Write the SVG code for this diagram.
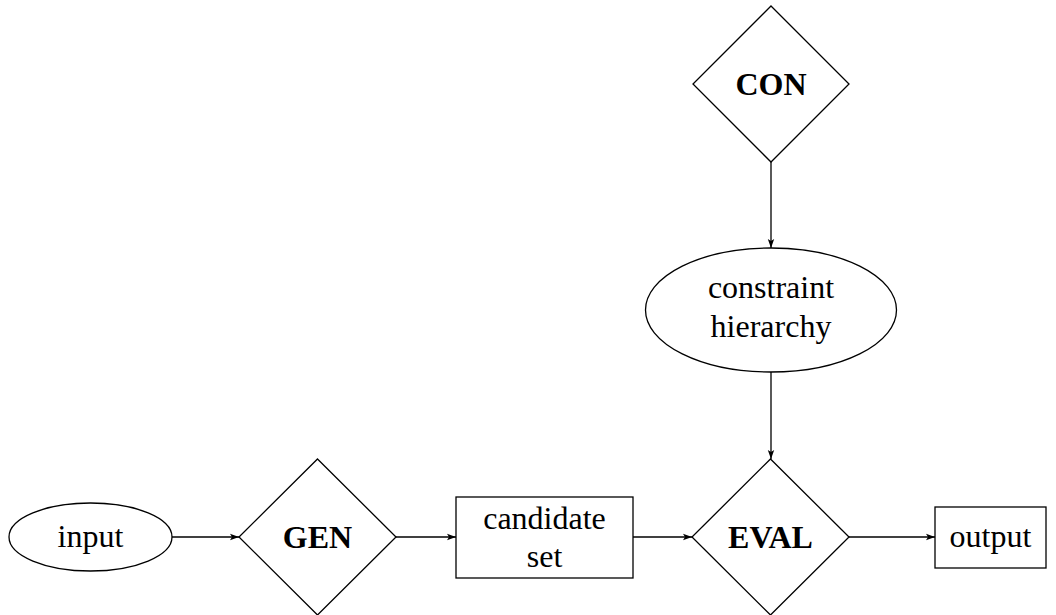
<svg xmlns="http://www.w3.org/2000/svg" width="1056" height="615" viewBox="0 0 1056 615">
<style>
.shape{fill:#fff;stroke:#000;stroke-width:1.3}
.edge{fill:none;stroke:#000;stroke-width:1.3}
text{font-family:'Liberation Serif','Times New Roman',serif;font-size:32px;fill:#000;text-anchor:middle}
.b{font-weight:bold}
</style>
<defs>
<marker id="arr" markerWidth="10" markerHeight="8" refX="9" refY="4" orient="auto" markerUnits="userSpaceOnUse">
<path d="M0,0.8 L9,4 L0,7.2 L2,4 Z" fill="#000"/>
</marker>
</defs>
<rect width="1056" height="615" fill="#fff"/>
<g id="connectors">
<line class="edge" x1="172" y1="537" x2="239" y2="537" marker-end="url(#arr)"/>
<line class="edge" x1="396" y1="537" x2="456" y2="537" marker-end="url(#arr)"/>
<line class="edge" x1="633" y1="537" x2="692" y2="537" marker-end="url(#arr)"/>
<line class="edge" x1="849" y1="537" x2="935" y2="537" marker-end="url(#arr)"/>
<line class="edge" x1="771" y1="162" x2="771" y2="248" marker-end="url(#arr)"/>
<line class="edge" x1="771" y1="372" x2="771" y2="459" marker-end="url(#arr)"/>
</g>
<g id="input">
<ellipse class="shape" cx="90.5" cy="537" rx="81.5" ry="34"/>
<text x="90.5" y="547">input</text>
</g>
<g id="gen">
<polygon class="shape" points="317.5,459 396,537 317.5,615 239,537"/>
<text class="b" x="317.5" y="548">GEN</text>
</g>
<g id="candidate">
<rect class="shape" x="456" y="497" width="177" height="81"/>
<text x="544.5" y="529">candidate</text>
<text x="544.5" y="567">set</text>
</g>
<g id="eval">
<polygon class="shape" points="770.5,459 849,537 770.5,615 692,537"/>
<text class="b" x="770.5" y="548">EVAL</text>
</g>
<g id="output">
<rect class="shape" x="935" y="507" width="111" height="61"/>
<text x="990.5" y="547">output</text>
</g>
<g id="con">
<polygon class="shape" points="771,6 849,84 771,162 693,84"/>
<text class="b" x="771" y="95">CON</text>
</g>
<g id="constraint">
<ellipse class="shape" cx="771" cy="310" rx="125.5" ry="62"/>
<text x="771" y="298">constraint</text>
<text x="771" y="337">hierarchy</text>
</g>
</svg>
